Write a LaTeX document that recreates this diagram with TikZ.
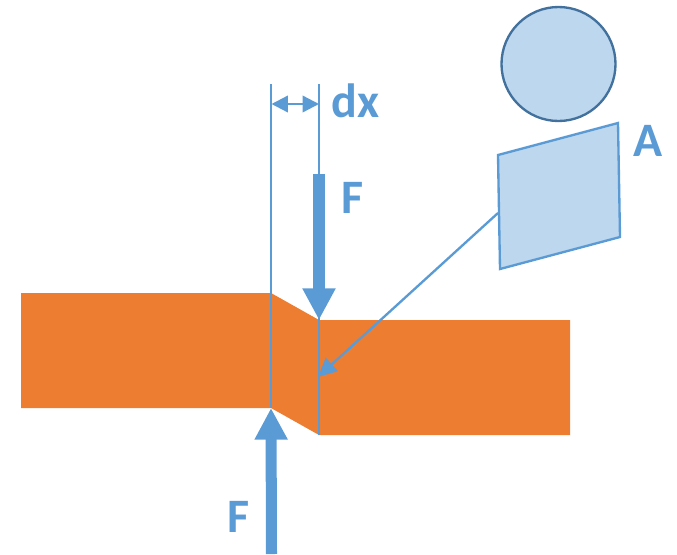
\documentclass[tikz,border=0pt]{standalone}
\usepackage{fontspec}
\setmainfont{Carlito}
\usetikzlibrary{arrows.meta,positioning}
\definecolor{barcol}{HTML}{ED7D31}
\definecolor{linecol}{HTML}{5B9BD5}
\definecolor{palecol}{HTML}{BDD7EE}
\definecolor{rimcol}{HTML}{41719C}
\tikzset{
 guide/.style={draw=linecol,line width=1.2pt},
 force/.style={draw=linecol,line width=9.4pt,-{Triangle[length=27pt,width=26.5pt]}},
 pointer/.style={draw=linecol,line width=2pt,-{Triangle[length=16pt,width=15pt]}},
 span/.style={draw=linecol,line width=2pt,{Triangle[length=14pt,width=14pt]}-{Triangle[length=14pt,width=14pt]}},
 lab/.style={text=linecol,font=\fontsize{41}{41}\selectfont\bfseries,inner sep=0pt}
}
\begin{document}
\begin{tikzpicture}[x=0.03cm,y=-0.03cm]
\useasboundingbox (0,0) rectangle (677,554);
% bar with the sheared part
\fill[barcol] (21,293)--(271,293)--(319,320)--(570,320)--(570,435)--(319,435)--(271,408)--(21,408)--cycle;
% guides
\coordinate (topL) at (271,84);
\coordinate (topR) at (319,84);
\coordinate (lowL) at (271,408);
\coordinate (lowR) at (319,435);
\draw[guide] (topL)--(lowL);
\draw[guide] (topR)--(lowR);
\coordinate (dxL) at (271.5,104);
\coordinate (dxR) at (319,104);
\draw[span] (dxL)--(dxR);
\node[lab] (dx) at (355.5,101) {dx};
% forces
\coordinate (fTop) at (319,174);
\coordinate (fTopTip) at (319,320);
\coordinate (fLow) at (271.5,554);
\draw[force] (fTop)--(fTopTip);
\draw[force] (fLow)--(lowL);
\node[lab] (fa) at (353,198) {F};
\node[lab] (fb) at (239,517) {F};
% area element
\draw[draw=rimcol,fill=palecol,line width=2pt] (558.5,64) circle (57);
\draw[draw=linecol,fill=palecol,line width=2pt] (498,155)--(618,123)--(620,237)--(500,269)--cycle;
\coordinate (areaEdge) at (498,213);
\coordinate (areaTip) at (318,377);
\draw[pointer] (areaEdge)--(areaTip);
\node[lab] (area) at (648,141) {A};
\end{tikzpicture}
\end{document}
